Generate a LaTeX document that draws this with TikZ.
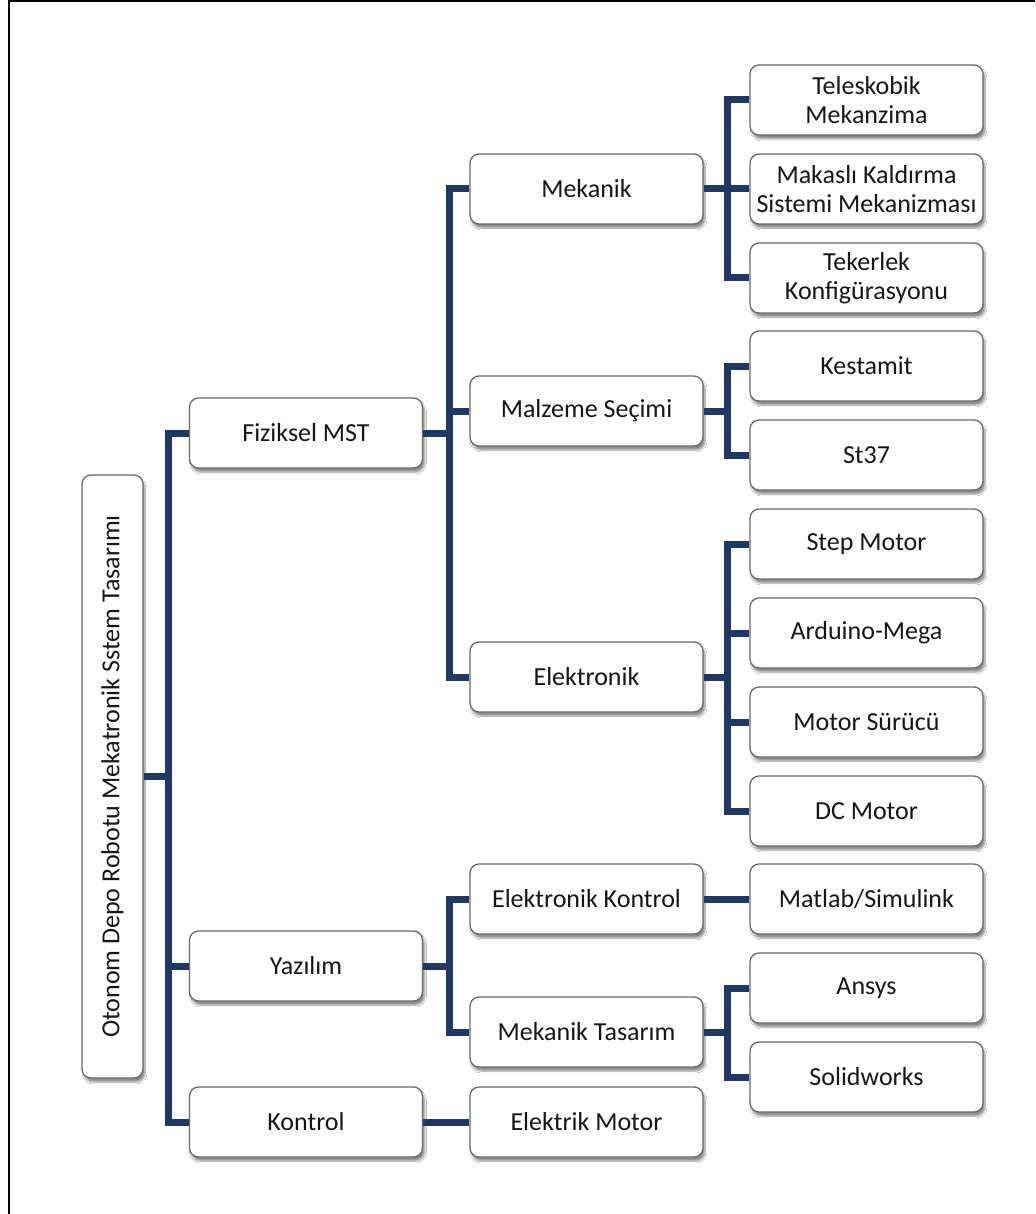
\documentclass[tikz,border=0pt]{standalone}
\usepackage{fontspec}
\setmainfont{Carlito}
\usetikzlibrary{shadows.blur}
\definecolor{linkblue}{RGB}{31,56,100}
\definecolor{boxedge}{RGB}{105,105,105}
\definecolor{boxtext}{RGB}{22,22,22}

\begin{document}
\begin{tikzpicture}[x=1pt,y=-1pt,
  box/.style={draw=boxedge, line width=1.3pt, fill=white, rounded corners=9pt,
    minimum width=233pt, minimum height=70pt, inner sep=0pt, align=center,
    font=\fontsize{26}{29}\selectfont, text=boxtext,
    blur shadow={shadow xshift=2pt, shadow yshift=-4pt, shadow blur steps=6, shadow opacity=45}},
  link/.style={draw=linkblue, line width=7pt, line join=miter}]

\useasboundingbox (0,0) rectangle (1035,1214);
\fill[white] (0,0) rectangle (1035,1214);
% frame along the top and left edges
\draw[line width=2pt] (9,1214) -- (9,1) -- (1035,1);

% root
\node[box, rotate=90, minimum width=603pt, minimum height=61pt] (root) at (112.5,776.5)
  {Otonom Depo Robotu Mekatronik Sstem Tasarımı};

% first level
\node[box] (fiz) at (306,433) {Fiziksel MST};
\node[box] (yaz) at (306,966) {Yazılım};
\node[box] (kon) at (306,1122) {Kontrol};

% second level
\node[box] (mek)  at (586.5,189)  {Mekanik};
\node[box] (mal)  at (586.5,411)  {Malzeme Seçimi};
\node[box] (ele)  at (586.5,677)  {Elektronik};
\node[box] (ekon) at (586.5,899)  {Elektronik Kontrol};
\node[box] (mtas) at (586.5,1032) {Mekanik Tasarım};
\node[box] (emot) at (586.5,1122) {Elektrik Motor};

% third level
\node[box] (tel)  at (866.5,100)  {Teleskobik\\Mekanzima};
\node[box] (mak)  at (866.5,189)  {Makaslı Kaldırma\\Sistemi Mekanizması};
\node[box] (tek)  at (866.5,278)  {Tekerlek\\Konfigürasyonu};
\node[box] (kes)  at (866.5,366)  {Kestamit};
\node[box] (st)   at (866.5,455)  {St37};
\node[box] (stm)  at (866.5,544)  {Step Motor};
\node[box] (ard)  at (866.5,633)  {Arduino-Mega};
\node[box] (msur) at (866.5,722)  {Motor Sürücü};
\node[box] (dcm)  at (866.5,811)  {DC Motor};
\node[box] (mat)  at (866.5,899)  {Matlab/Simulink};
\node[box] (ans)  at (866.5,988)  {Ansys};
\node[box] (sol)  at (866.5,1077) {Solidworks};

% connectors
\foreach \c in {fiz,yaz,kon}
  \draw[link] (root.south) -- ++(25,0) |- (\c.west);
\foreach \c in {mek,mal,ele}
  \draw[link] (fiz.east) -- ++(26,0) |- (\c.west);
\foreach \c in {ekon,mtas}
  \draw[link] (yaz.east) -- ++(26,0) |- (\c.west);
\draw[link] (kon.east) -- (emot.west);
\foreach \c in {tel,mak,tek}
  \draw[link] (mek.east) -- ++(24,0) |- (\c.west);
\foreach \c in {kes,st}
  \draw[link] (mal.east) -- ++(24,0) |- (\c.west);
\foreach \c in {stm,ard,msur,dcm}
  \draw[link] (ele.east) -- ++(24,0) |- (\c.west);
\draw[link] (ekon.east) -- (mat.west);
\foreach \c in {ans,sol}
  \draw[link] (mtas.east) -- ++(24,0) |- (\c.west);
\end{tikzpicture}
\end{document}
